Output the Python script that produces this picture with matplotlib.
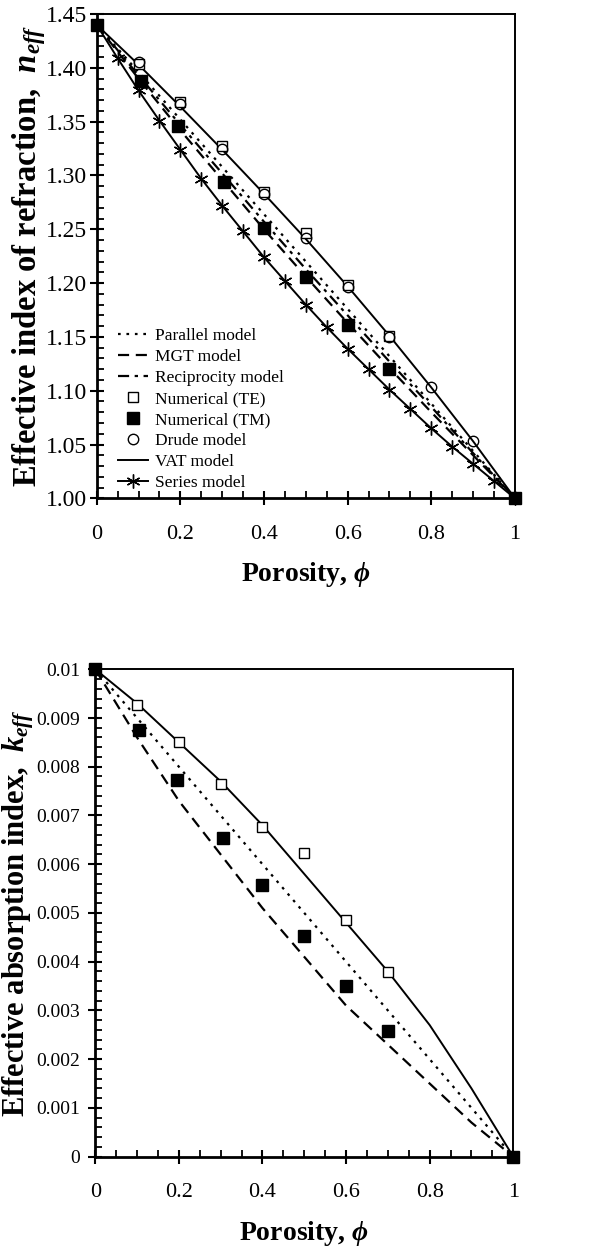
import matplotlib
matplotlib.use("Agg")
import matplotlib.pyplot as plt
from matplotlib.ticker import MultipleLocator, FuncFormatter

plt.rcParams['font.family'] = ['Liberation Serif', 'DejaVu Serif']
plt.rcParams['mathtext.fontset'] = 'custom'
plt.rcParams['mathtext.rm'] = 'Liberation Serif:bold'
plt.rcParams['mathtext.it'] = 'Liberation Serif:italic:bold'
plt.rcParams['mathtext.bf'] = 'Liberation Serif:bold'

# porosity grid of the model curves
phi = [0.0, 0.1, 0.2, 0.3, 0.4, 0.5, 0.6, 0.7, 0.8, 0.9, 1.0]

# effective index of refraction
n_parallel = [1.44, 1.396, 1.352, 1.308, 1.264, 1.220, 1.176, 1.132, 1.088, 1.044, 1.00]
n_mgt = [1.44, 1.390, 1.342, 1.296, 1.250, 1.206, 1.163, 1.121, 1.080, 1.040, 1.00]
n_recip = [1.44, 1.393, 1.347, 1.302, 1.257, 1.213, 1.170, 1.127, 1.085, 1.042, 1.00]
n_vat = [1.44, 1.403, 1.364, 1.324, 1.283, 1.241, 1.197, 1.151, 1.103, 1.053, 1.00]

phi_series = [0.0, 0.05, 0.1, 0.15, 0.2, 0.25, 0.3, 0.35, 0.4, 0.45, 0.5,
              0.55, 0.6, 0.65, 0.7, 0.75, 0.8, 0.85, 0.9, 0.95, 1.0]
n_series = [1.44, 1.409, 1.379, 1.351, 1.324, 1.297, 1.272, 1.248, 1.224, 1.202, 1.180,
            1.159, 1.139, 1.120, 1.101, 1.083, 1.065, 1.048, 1.032, 1.016, 1.00]

phi_drude = [0.1, 0.2, 0.3, 0.4, 0.5, 0.6, 0.7, 0.8, 0.9]
n_drude = [1.405, 1.366, 1.325, 1.283, 1.242, 1.196, 1.150, 1.103, 1.053]

phi_te = [0.0, 0.1, 0.2, 0.3, 0.4, 0.5, 0.6, 0.7, 1.0]
n_te = [1.44, 1.404, 1.368, 1.327, 1.285, 1.247, 1.198, 1.151, 1.00]
phi_tm = [0.0, 0.105, 0.195, 0.305, 0.4, 0.5, 0.6, 0.7, 1.0]
n_tm = [1.44, 1.388, 1.346, 1.294, 1.251, 1.206, 1.161, 1.120, 1.00]

# effective absorption index
k_parallel = [0.01, 0.009, 0.008, 0.007, 0.006, 0.005, 0.004, 0.003, 0.002, 0.001, 0.0]
k_mgt = [0.01, 0.0086, 0.0073, 0.0062, 0.0051, 0.0041, 0.0031, 0.0023, 0.0015, 0.0007, 0.0]
k_vat = [0.01, 0.0093, 0.0085, 0.0077, 0.0068, 0.0058, 0.0048, 0.0038, 0.0027, 0.0014, 0.0]
k_te = [0.01, 0.00927, 0.0085, 0.00764, 0.00677, 0.00623, 0.00486, 0.00378, 0.0]
k_tm = [0.01, 0.00875, 0.00772, 0.00654, 0.00558, 0.00453, 0.00351, 0.00258, 0.0]

dotted = (0, (1.2, 2.6))
dashed = (0, (5, 3))
dashdot = (0, (5, 2.5, 1.5, 2.5))
star = (6, 2, 0)


def style_axes(ax, ymaj, ymin, yfmt, ysize):
    ax.set_xlim(0, 1)
    ax.xaxis.set_major_locator(MultipleLocator(0.2))
    ax.xaxis.set_minor_locator(MultipleLocator(0.05))
    ax.yaxis.set_major_locator(MultipleLocator(ymaj))
    ax.yaxis.set_minor_locator(MultipleLocator(ymin))
    ax.xaxis.set_major_formatter(FuncFormatter(lambda v, p: '%g' % round(v, 3)))
    ax.yaxis.set_major_formatter(FuncFormatter(yfmt))
    ax.tick_params(which='major', direction='inout', length=10, width=1.5,
                   top=False, right=False)
    ax.tick_params(which='minor', direction='in', length=5, width=1.3,
                   top=False, right=False)
    ax.tick_params(axis='x', which='major', pad=14, labelsize=16)
    ax.tick_params(axis='y', which='major', labelsize=ysize)
    for s in ax.spines.values():
        s.set_linewidth(1.4)
    ax.spines['left'].set_linewidth(2)
    ax.spines['bottom'].set_linewidth(2)
    ax.set_xlabel(r'Porosity, $\phi$', fontsize=20, fontweight='bold', labelpad=12)


fig = plt.figure(figsize=(6.05, 12.54), dpi=100)

# top panel: refraction index
ax1 = fig.add_axes([0.1598, 0.6026, 0.6914, 0.3862])
ax1.plot(phi, n_parallel, color='black', lw=1.6, ls=dotted, label='Parallel model')
ax1.plot(phi, n_mgt, color='black', lw=1.6, ls=dashed, label='MGT model')
ax1.plot(phi, n_recip, color='black', lw=1.6, ls=dashdot, label='Reciprocity model')
ax1.plot(phi_te, n_te, ls='none', marker='s', ms=7.5, mfc='white', mec='black', mew=1,
         label='Numerical (TE)', clip_on=False, zorder=4)
ax1.plot(phi_tm, n_tm, ls='none', marker='s', ms=8, mfc='black', mec='black',
         label='Numerical (TM)', clip_on=False, zorder=5)
ax1.plot(phi_drude, n_drude, ls='none', marker='o', ms=7.5, mfc='none', mec='black', mew=1,
         label='Drude model', zorder=4)
ax1.plot(phi, n_vat, color='black', lw=1.4, label='VAT model')
ax1.plot(phi_series, n_series, color='black', lw=1.4, marker=star, ms=10, mew=1,
         label='Series model', clip_on=False)
ax1.set_ylim(1.0, 1.45)
style_axes(ax1, 0.05, 0.01, lambda v, p: '%.2f' % v, 17)
ax1.tick_params(axis='y', which='major', pad=2)
ax1.set_ylabel(r'Effective index of refraction,  $n_{eff}$', fontsize=23.5,
               fontweight='bold')
ax1.yaxis.set_label_coords(-0.117, 0.5)
ax1.legend(loc='lower left', bbox_to_anchor=(0.035, 0.0), frameon=False, fontsize=12.5,
           handlelength=1.7, handletextpad=0.4, labelspacing=0.28, borderaxespad=0.0)

# bottom panel: absorption index
ax2 = fig.add_axes([0.1575, 0.0776, 0.6909, 0.3887])
ax2.plot(phi, k_parallel, color='black', lw=1.6, ls=dotted)
ax2.plot(phi, k_mgt, color='black', lw=1.6, ls=dashed)
ax2.plot(phi, k_vat, color='black', lw=1.4)
ax2.plot(phi_te, k_te, ls='none', marker='s', ms=7.5, mfc='white', mec='black', mew=1,
         clip_on=False, zorder=4)
ax2.plot(phi_tm, k_tm, ls='none', marker='s', ms=8, mfc='black', mec='black',
         clip_on=False, zorder=5)
ax2.set_ylim(0, 0.01)
style_axes(ax2, 0.001, 0.0002, lambda v, p: '%g' % round(v, 4), 14)
ax2.tick_params(axis='y', which='major', pad=6)
ax2.set_ylabel(r'Effective absorption index,  $k_{eff}$', fontsize=22,
               fontweight='bold')
ax2.yaxis.set_label_coords(-0.141, 0.5)

fig.savefig('out.png', dpi=100)
